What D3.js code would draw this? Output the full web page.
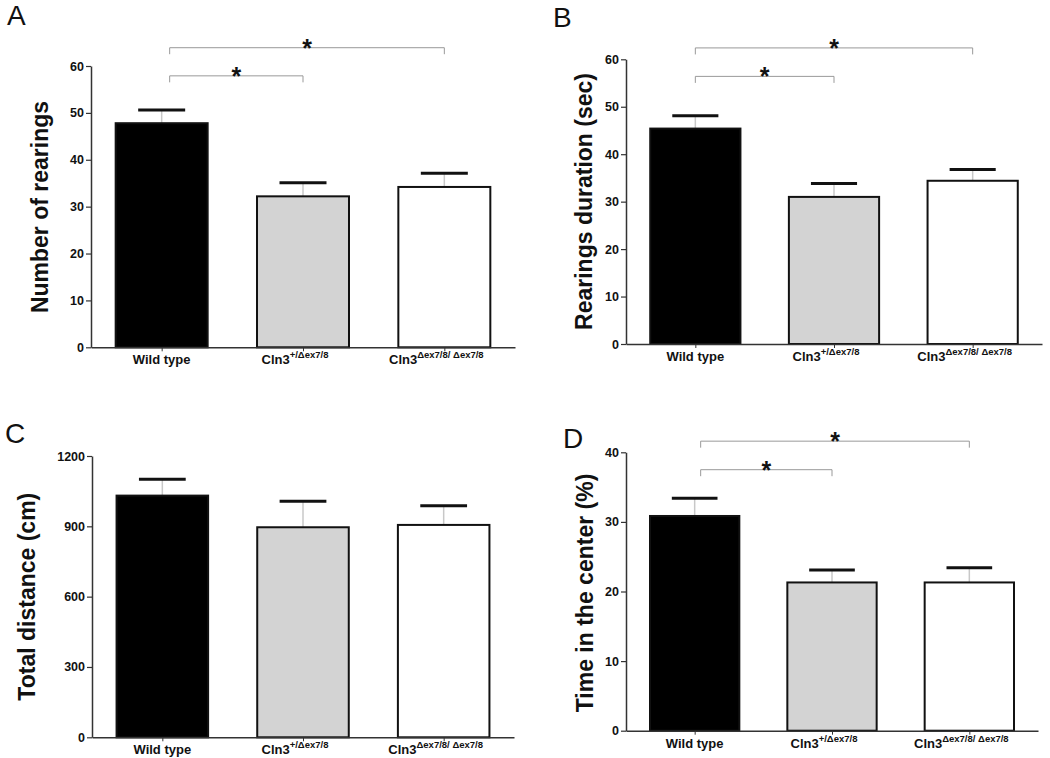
<!DOCTYPE html>
<html>
<head>
<meta charset="utf-8">
<script src="https://cdn.jsdelivr.net/npm/d3@7"></script>
<style>
  html, body { margin: 0; padding: 0; background: #fff; }
  svg { display: block; font-family: "Liberation Sans", Arial, sans-serif; }
</style>
</head>
<body>
<svg id="chart" width="1050" height="758"></svg>
<script>
// ---------- data ----------
const categories = ["Wild type", "Cln3", "Cln3"];
const categorySup = ["", "+/\u0394ex7/8", "\u0394ex7/8/ \u0394ex7/8"];
const barFills = ["#000000", "#d3d3d3", "#ffffff"];

const rearingsMean = [47.8, 32.2, 34.2];
const rearingsSem  = [2.8, 2.9, 2.9];
const rearingsTicks = [0, 10, 20, 30, 40, 50, 60];

const durationMean = [45.4, 31.0, 34.4];
const durationSem  = [2.7, 2.8, 2.4];
const durationTicks = [0, 10, 20, 30, 40, 50, 60];

const distanceMean = [1031, 896, 906];
const distanceSem  = [70, 111, 82];
const distanceTicks = [0, 300, 600, 900, 1200];

const centerMean = [30.85, 21.3, 21.3];
const centerSem  = [2.55, 1.8, 2.1];
const centerTicks = [0, 10, 20, 30, 40];

const sigPairs = [[0, 1], [0, 2]];
const rearingsBrackets = [57.9, 63.9];
const durationBrackets = [56.4, 62.4];
const centerBrackets = [37.5, 41.6];

// ---------- panels ----------
const panels = [
  { letter: "A", title: "Number of rearings", mean: rearingsMean, sem: rearingsSem, ticks: rearingsTicks,
    brackets: rearingsBrackets, x0: 91, x1: 515, yTop: 66, yBot: 347.3,
    lx: 7, ly: 25, tx: 48, ty: 207, shift: 8 },
  { letter: "B", title: "Rearings duration (sec)", mean: durationMean, sem: durationSem, ticks: durationTicks,
    brackets: durationBrackets, x0: 626, x1: 1042, yTop: 59.3, yBot: 344,
    lx: 553, ly: 27, tx: 591.5, ty: 201.5, shift: 0 },
  { letter: "C", title: "Total distance (cm)", mean: distanceMean, sem: distanceSem, ticks: distanceTicks,
    brackets: null, x0: 92, x1: 514, yTop: 456, yBot: 737.3,
    lx: 5, ly: 443, tx: 34.5, ty: 596.7, shift: 0 },
  { letter: "D", title: "Time in the center (%)", mean: centerMean, sem: centerSem, ticks: centerTicks,
    brackets: centerBrackets, x0: 626, x1: 1038, yTop: 452.3, yBot: 730.7,
    lx: 563, ly: 448, tx: 593, ty: 593, shift: 6 }
];

const svg = d3.select("#chart");
const axisColor = "#333";

panels.forEach(p => {
  const g = svg.append("g");
  const idx = d3.range(categories.length);
  const x = d3.scalePoint().domain(idx).range([p.x0, p.x1]).padding(0.5);
  const step = x.step();
  const barW = step * 0.665;
  const capW = barW * 0.5;
  const y = d3.scaleLinear().domain([0, d3.max(p.ticks)]).range([p.yBot, p.yTop]);

  // error stems
  g.selectAll(".stem").data(idx).join("line")
    .attr("x1", i => x(i)).attr("x2", i => x(i))
    .attr("y1", i => y(p.mean[i])).attr("y2", i => y(p.mean[i] + p.sem[i]))
    .attr("stroke", "#c8c8c8").attr("stroke-width", 1.5);

  // bars
  g.selectAll(".bar").data(idx).join("rect")
    .attr("x", i => x(i) - barW / 2 + 1)
    .attr("width", barW - 2)
    .attr("y", i => y(p.mean[i]))
    .attr("height", i => y(0) - y(p.mean[i]))
    .attr("fill", i => barFills[i])
    .attr("stroke", "#111").attr("stroke-width", 2);

  // error caps
  g.selectAll(".cap").data(idx).join("line")
    .attr("x1", i => x(i) - capW / 2).attr("x2", i => x(i) + capW / 2)
    .attr("y1", i => y(p.mean[i] + p.sem[i])).attr("y2", i => y(p.mean[i] + p.sem[i]))
    .attr("stroke", "#111").attr("stroke-width", 3);

  // y axis
  const yAxis = g.append("g").attr("transform", `translate(${p.x0},0)`)
    .call(d3.axisLeft(y).tickValues(p.ticks).tickFormat(d3.format("d"))
      .tickSize(5).tickPadding(2).tickSizeOuter(0));
  yAxis.select(".domain").attr("stroke", axisColor).attr("stroke-width", 1.5);
  yAxis.selectAll(".tick line").attr("stroke", axisColor).attr("stroke-width", 1.2);
  yAxis.selectAll(".tick text").attr("fill", "#111").style("font-size", "12.5px").style("font-weight", "bold")
    .style("font-family", "'Liberation Sans', Arial, sans-serif");

  // x axis
  const xAxis = g.append("g").attr("transform", `translate(0,${p.yBot})`)
    .call(d3.axisBottom(x).tickSize(4).tickSizeOuter(0).tickFormat(""));
  xAxis.select(".domain").attr("stroke", axisColor).attr("stroke-width", 1.5);
  xAxis.selectAll(".tick line").attr("stroke", axisColor).attr("stroke-width", 1);

  // category labels
  idx.forEach(i => {
    const t = g.append("text")
      .attr("x", x(i) + (categorySup[i] ? -8 : 0))
      .attr("y", p.yBot + 17)
      .attr("text-anchor", "middle")
      .style("font-size", "13px").style("font-weight", "bold").attr("fill", "#111");
    t.append("tspan").text(categories[i]);
    if (categorySup[i]) {
      t.append("tspan").attr("dy", -6).style("font-size", "9.5px").text(categorySup[i]);
    }
  });

  // y title
  g.append("text")
    .attr("transform", `translate(${p.tx},${p.ty}) rotate(-90)`)
    .attr("text-anchor", "middle")
    .style("font-size", "23px").style("font-weight", "bold").attr("fill", "#111")
    .text(p.title);

  // panel letter
  g.append("text").attr("x", p.lx).attr("y", p.ly)
    .style("font-size", "28px").attr("fill", "#111").text(p.letter);

  // significance brackets
  if (p.brackets) {
    sigPairs.forEach((pair, k) => {
      const xa = x(pair[0]) + p.shift, xb = x(pair[1]);
      const yb = y(p.brackets[k]);
      g.append("path")
        .attr("d", `M${xa},${yb + 6.5}V${yb}H${xb}V${yb + 6.5}`)
        .attr("fill", "none").attr("stroke", "#999").attr("stroke-width", 1);
      g.append("text").attr("x", (xa + xb) / 2).attr("y", yb + 9)
        .attr("text-anchor", "middle")
        .style("font-size", "25px").style("font-weight", "bold").attr("fill", "#111")
        .text("*");
    });
  }
});
</script>
</body>
</html>
